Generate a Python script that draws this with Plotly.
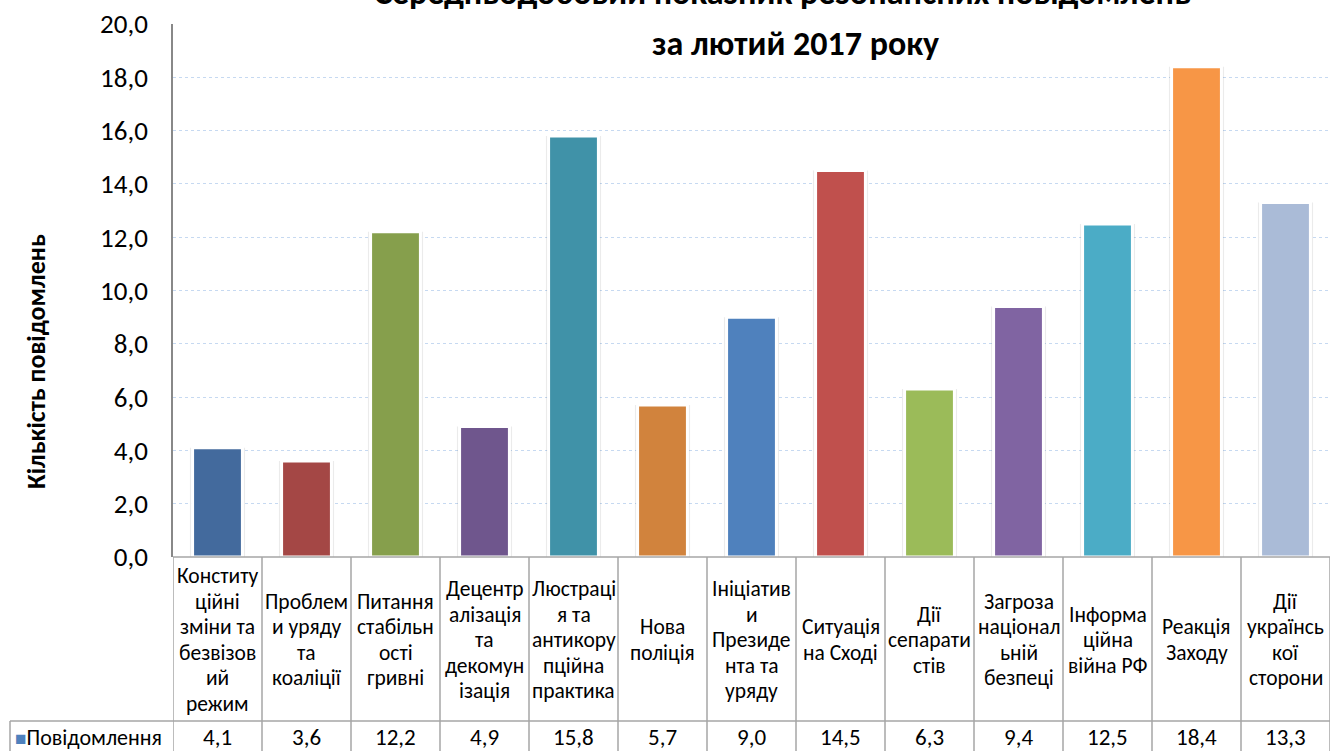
import plotly.graph_objects as go

categories = [
    "Конститу<br>ційні<br>зміни та<br>безвізов<br>ий<br>режим",
    "Проблем<br>и уряду<br>та<br>коаліції",
    "Питання<br>стабільн<br>ості<br>гривні",
    "Децентр<br>алізація<br>та<br>декомун<br>ізація",
    "Люстраці<br>я та<br>антикору<br>пційна<br>практика",
    "Нова<br>поліція",
    "Ініціатив<br>и<br>Президе<br>нта та<br>уряду",
    "Ситуація<br>на Сході",
    "Дії<br>сепарати<br>стів",
    "Загроза<br>націонал<br>ьній<br>безпеці",
    "Інформа<br>ційна<br>війна РФ",
    "Реакція<br>Заходу",
    "Дії<br>українсь<br>кої<br>сторони",
]
values = [4.1, 3.6, 12.2, 4.9, 15.8, 5.7, 9.0, 14.5, 6.3, 9.4, 12.5, 18.4, 13.3]
value_labels = ["4,1", "3,6", "12,2", "4,9", "15,8", "5,7", "9,0", "14,5", "6,3", "9,4", "12,5", "18,4", "13,3"]
colors = ["#436A9D", "#A44745", "#869F4C", "#6F568D", "#4092A8", "#D1833D",
          "#4F81BD", "#C0504D", "#9BBB59", "#8064A2", "#4BACC6", "#F79646", "#AABBD7"]
series_name = "Повідомлення"
title_lines = ["Середньодобовий показник резонансних повідомлень", "за лютий 2017 року"]
y_title = "Кількість повідомлень"

FONT = "Carlito, 'Liberation Sans Narrow', Roboto, sans-serif"

W, H = 1330, 751
L, R, T, B = 173, 0, 24, 194
plot_h = H - T - B
plot_w = W - L - R

def py(p):  # pixel y -> paper y
    return (H - B - p) / plot_h

def px(p):  # pixel x -> paper x
    return (p - L) / plot_w

x_idx = list(range(len(categories)))

fig = go.Figure()
# soft shadow behind bars
fig.add_trace(go.Bar(
    x=x_idx, y=values, width=0.62,
    marker=dict(color="rgba(0,0,0,0.08)", line=dict(width=0)),
    hoverinfo="skip", showlegend=False,
))
fig.add_trace(go.Bar(
    x=x_idx, y=values, width=0.56, name=series_name,
    marker=dict(color=colors, line=dict(color="white", width=3)),
    showlegend=False,
))

shapes = []
line_col = "#A6A6A6"
shapes.append(dict(type="line", xref="paper", yref="paper", x0=0, x1=1, y0=0, y1=0,
                   line=dict(color=line_col, width=1.5)))
shapes.append(dict(type="line", xref="paper", yref="paper", x0=px(10), x1=1, y0=py(721), y1=py(721),
                   line=dict(color=line_col, width=1.5)))
shapes.append(dict(type="line", xref="paper", yref="paper", x0=px(10), x1=px(10), y0=py(721), y1=py(760),
                   line=dict(color=line_col, width=1.5)))
for i in range(len(categories) + 1):
    shapes.append(dict(type="line", xref="x", yref="paper", x0=i - 0.5, x1=i - 0.5,
                       y0=0, y1=py(760), line=dict(color=line_col, width=1.5)))

annotations = []
LINE_H = 25.5
CENTER = 640
for i, (c, v) in enumerate(zip(categories, value_labels)):
    parts = c.split("<br>")
    n = len(parts)
    for k, part in enumerate(parts):
        yc = CENTER + (k - (n - 1) / 2) * LINE_H
        annotations.append(dict(x=i, y=py(yc), xref="x", yref="paper", text=part, showarrow=False,
                                font=dict(family=FONT, size=21.5, color="#000"), align="center",
                                xanchor="center", yanchor="middle"))
    annotations.append(dict(x=i, y=py(737), xref="x", yref="paper", text=v, showarrow=False,
                            font=dict(family=FONT, size=23, color="#000"),
                            xanchor="center", yanchor="middle"))
annotations.append(dict(x=px(13), y=py(737), xref="paper", yref="paper",
                        text="<span style='color:#4F81BD;font-size:19px'>■</span>" + series_name,
                        showarrow=False, font=dict(family=FONT, size=22, color="#000"),
                        xanchor="left", yanchor="middle"))
annotations.append(dict(x=px(782), y=py(-8), xref="paper", yref="paper", text="<b>" + title_lines[0] + "</b>",
                        showarrow=False, font=dict(family=FONT, size=34, color="#000"),
                        xanchor="center", yanchor="middle"))
annotations.append(dict(x=px(795), y=py(44), xref="paper", yref="paper", text="<b>" + title_lines[1] + "</b>",
                        showarrow=False, font=dict(family=FONT, size=34, color="#000"),
                        xanchor="center", yanchor="middle"))
annotations.append(dict(x=px(36), y=py(362), xref="paper", yref="paper", text="<b>" + y_title + "</b>",
                        textangle=-90, showarrow=False, font=dict(family=FONT, size=26, color="#000"),
                        xanchor="center", yanchor="middle"))

fig.update_layout(
    width=W, height=H,
    margin=dict(l=L, r=R, t=T, b=B, pad=0),
    paper_bgcolor="white", plot_bgcolor="white",
    separators=", ",
    barmode="overlay",
    xaxis=dict(range=[-0.5, len(categories) - 0.5], showticklabels=False, showgrid=False,
               zeroline=False, showline=False, fixedrange=True),
    yaxis=dict(range=[0, 20], dtick=2, tickformat=".1f", showgrid=True, gridcolor="#C6D9F1",
               griddash="dot", gridwidth=1.2, zeroline=False, showline=True, linecolor="#888888",
               linewidth=1.5, ticks="", ticklabelstandoff=18,
               tickfont=dict(family=FONT, size=27, color="#000")),
    shapes=shapes,
    annotations=annotations,
    showlegend=False,
)

fig.write_html("out.html")
